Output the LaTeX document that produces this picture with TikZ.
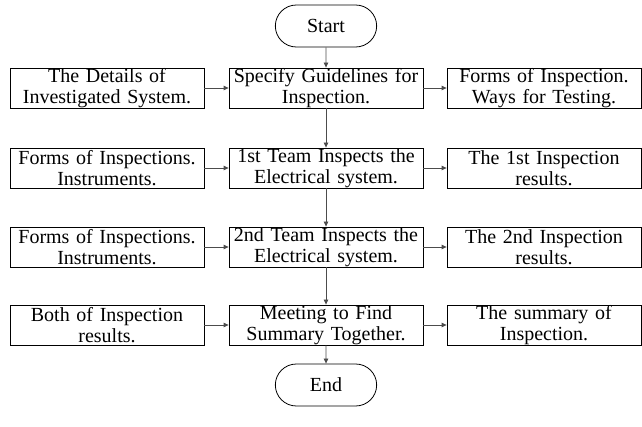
\documentclass[tikz,border=0pt]{standalone}
\usepackage{fontspec}
\setmainfont{Liberation Serif}
\usetikzlibrary{arrows.meta, positioning, shapes.misc}

\begin{document}
\begin{tikzpicture}[
  x=1pt, y=-1pt,
  >={Triangle[length=5pt, width=4.5pt]},
  stepbox/.style={
    rectangle, draw, line width=0.8pt,
    minimum width=194pt, minimum height=40pt,
    text width=192pt, align=center, inner sep=0pt,
    font=\fontsize{20}{21.5}\selectfont
  },
  term/.style={
    rounded rectangle, draw, line width=0.8pt,
    minimum width=108pt, minimum height=42pt,
    font=\fontsize{20}{21.5}\selectfont
  },
  link/.style={->, line width=0.8pt, color=black!70},
]
\useasboundingbox (0,0) rectangle (642,427);

%%% Terminals
\node[term] (start) at (326,26)  {Start};
\node[term] (stop)  at (326,385) {End};

%%% Middle column
\node[stepbox] (m1) at (326,88)  {Specify Guidelines for\\Inspection.};
\node[stepbox] (m2) at (326,168) {1st Team Inspects the\\Electrical system.};
\node[stepbox] (m3) at (326,247) {2nd Team Inspects the\\Electrical system.};
\node[stepbox] (m4) at (326,325) {Meeting to Find\\Summary Together.};

%%% Inputs (left)
\node[stepbox] (i1) at (107,88)  {The Details of\\Investigated System.};
\node[stepbox] (i2) at (107,168) {Forms of Inspections.\\Instruments.};
\node[stepbox] (i3) at (107,247) {Forms of Inspections.\\Instruments.};
\node[stepbox] (i4) at (107,325) {Both of Inspection\\results.};

%%% Outputs (right)
\node[stepbox] (o1) at (544,88)  {Forms of Inspection.\\Ways for Testing.};
\node[stepbox] (o2) at (544,168) {The 1st Inspection\\results.};
\node[stepbox] (o3) at (544,247) {The 2nd Inspection\\results.};
\node[stepbox] (o4) at (544,325) {The summary of\\Inspection.};

%%% Main flow
\draw[link] (start) -- (m1);
\draw[link] (m1) -- (m2);
\draw[link] (m2) -- (m3);
\draw[link] (m3) -- (m4);
\draw[link] (m4) -- (stop);

%%% Side flows
\foreach \k in {1,...,4} {
  \draw[link] (i\k) -- (m\k);
  \draw[link] (m\k) -- (o\k);
}

\end{tikzpicture}
\end{document}
